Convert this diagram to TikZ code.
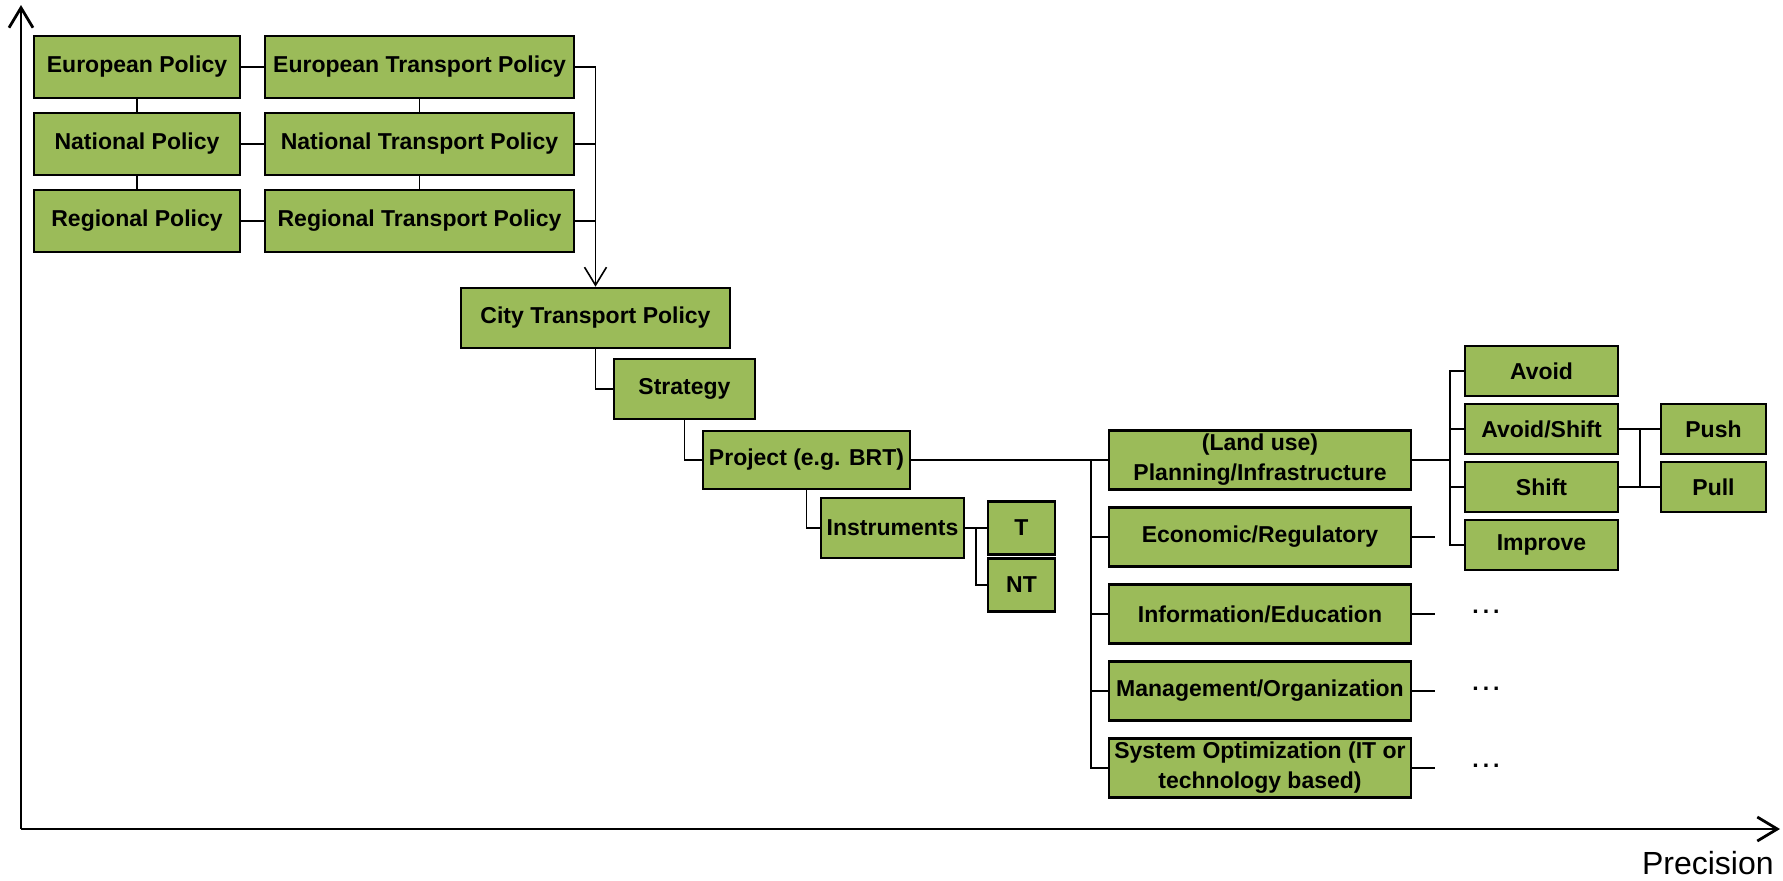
\documentclass[tikz,border=0pt]{standalone}
\usepackage{fontspec}
\setmainfont{Liberation Sans}
\usetikzlibrary{arrows.meta}
\definecolor{boxgreen}{HTML}{9BBB59}
\tikzstyle{greenbox} = [rectangle, minimum height=30pt, inner xsep=1pt, inner ysep=0pt, text centered, align=center, draw=black, line width=1.3pt, fill=boxgreen, font=\fontsize{11.5}{15}\selectfont\bfseries]
\tikzstyle{policy} = [greenbox, minimum width=103pt, minimum height=31pt]
\tikzstyle{transport} = [greenbox, minimum width=154.5pt, minimum height=31pt]
\tikzstyle{measure} = [greenbox, minimum width=151pt, minimum height=29.5pt]
\tikzstyle{avoidbox} = [greenbox, minimum width=76.5pt, minimum height=25pt]
\tikzstyle{pushbox} = [greenbox, minimum width=52.5pt, minimum height=25pt]
\tikzstyle{dots} = [inner sep=0pt, font=\fontsize{11.5}{15}\selectfont\bfseries]
\tikzstyle{conn} = [line width=0.8pt]
\tikzstyle{arrow} = [line width=0.8pt, -{Straight Barb[length=9pt,width=11pt]}]
\tikzstyle{axis} = [line width=1.4pt, -{Straight Barb[length=10pt,width=12pt]}]
\newcommand{\spreaddots}{.\hspace{2pt}.\hspace{2pt}.}

\begin{document}
\begin{tikzpicture}[x=1pt, y=1pt, node distance=38.5pt]
\useasboundingbox (0,0) rectangle (891.5,-440);

% axes
\coordinate (origin) at (10.5,-414.5);
\coordinate (ytop) at (10.5,-2.5);
\coordinate (xend) at (890,-414.5);
\draw [axis] (origin)--(ytop);
\draw [axis] (origin)--(xend);
\node (precision) [anchor=east, inner sep=0pt, font=\fontsize{16}{19}\selectfont] at (887,-431.5) {Precision};

% policy levels
\node (EP) [policy] at (68.5,-33.5) {European Policy};
\node (NP) [policy, below of=EP] {National Policy};
\node (RP) [policy, below of=NP] {Regional Policy};
\node (ETP) [transport] at (209.75,-33.5) {European Transport Policy};
\node (NTP) [transport, below of=ETP] {National Transport Policy};
\node (RTP) [transport, below of=NTP] {Regional Transport Policy};
\draw [conn] (EP)--(ETP);
\draw [conn] (NP)--(NTP);
\draw [conn] (RP)--(RTP);
\draw [conn] (EP)--(NP);
\draw [conn] (NP)--(RP);
\draw [conn] (ETP)--(NTP);
\draw [conn] (NTP)--(RTP);

\node (CTP) [greenbox, minimum width=134.5pt] at (297.75,-159) {City Transport Policy};
\draw [arrow] (ETP)-|(CTP);
\draw [conn] (NTP.east)--(NTP.east -| CTP.north);
\draw [conn] (RTP.east)--(RTP.east -| CTP.north);

\node (strategy) [greenbox, minimum width=70.5pt] at (342.25,-194.5) {Strategy};
\draw [conn] (CTP)|-(strategy);

\node (project) [greenbox, minimum width=103.5pt, minimum height=29pt] at (403.25,-230) {Project (e.g. BRT)};
\draw [conn] (strategy)|-(project);

\node (instruments) [greenbox, minimum width=71.5pt] at (446.25,-264) {Instruments};
\draw [conn] (project)|-(instruments);

\node (T) [greenbox, minimum width=33.5pt, minimum height=26.5pt] at (510.75,-264) {T};
\node (NT) [greenbox, minimum width=33.5pt, minimum height=26.5pt] at (510.75,-292.5) {NT};
\draw [conn] (instruments)--(T);
\coordinate (split) at (488,-264);
\draw [conn] (split)|-(NT);

% measure types
\node (planning) [measure] at (630,-230) {(Land use)\\Planning/Infrastructure};
\node (econ) [measure, below of=planning] {Economic/Regulatory};
\node (info) [measure, below of=econ] {Information/Education};
\node (mgmt) [measure, below of=info] {Management/Organization};
\node (sysopt) [measure, below of=mgmt] {System Optimization (IT or\\technology based)};
\draw [conn, line width=1pt] (project)--(planning);
\coordinate (bus) at (545.5,-230);
\draw [conn] (bus)|-(econ);
\draw [conn] (bus)|-(info);
\draw [conn] (bus)|-(mgmt);
\draw [conn] (bus)|-(sysopt);

\coordinate (econend) at ([xshift=11.5pt]econ.east);
\coordinate (infoend) at ([xshift=11.5pt]info.east);
\coordinate (mgmtend) at ([xshift=11.5pt]mgmt.east);
\coordinate (sysoptend) at ([xshift=11.5pt]sysopt.east);
\draw [conn, line width=1.2pt] (econ)--(econend);
\draw [conn, line width=1.2pt] (info)--(infoend);
\draw [conn, line width=1.2pt] (mgmt)--(mgmtend);
\draw [conn, line width=1.2pt] (sysopt)--(sysoptend);
\node (infodots) [dots] at (743,-306) {\spreaddots};
\node (mgmtdots) [dots] at (743,-344.5) {\spreaddots};
\node (sysoptdots) [dots] at (743,-383) {\spreaddots};

% avoid / shift / improve
\node (avoid) [avoidbox] at (770.75,-185.5) {Avoid};
\node (avoidshift) [avoidbox, node distance=29pt, below of=avoid] {Avoid/Shift};
\node (shift) [avoidbox, node distance=29pt, below of=avoidshift] {Shift};
\node (improve) [avoidbox, node distance=29pt, below of=shift] {Improve};
\coordinate (fork) at (725,-230);
\draw [conn, line width=1.2pt] (planning)--(fork);
\draw [conn] (avoid)-|(fork);
\draw [conn] (improve)-|(fork);
\draw [conn] (avoidshift.west)--(avoidshift.west -| fork);
\draw [conn] (shift.west)--(shift.west -| fork);

\node (push) [pushbox] at (856.75,-214.5) {Push};
\node (pull) [pushbox, node distance=29pt, below of=push] {Pull};
\draw [conn] (avoidshift)--(push);
\draw [conn] (shift)--(pull);
\coordinate (pushfork) at (820,-214.5);
\draw [conn] (pushfork)--(pushfork |- pull);
\end{tikzpicture}
\end{document}
